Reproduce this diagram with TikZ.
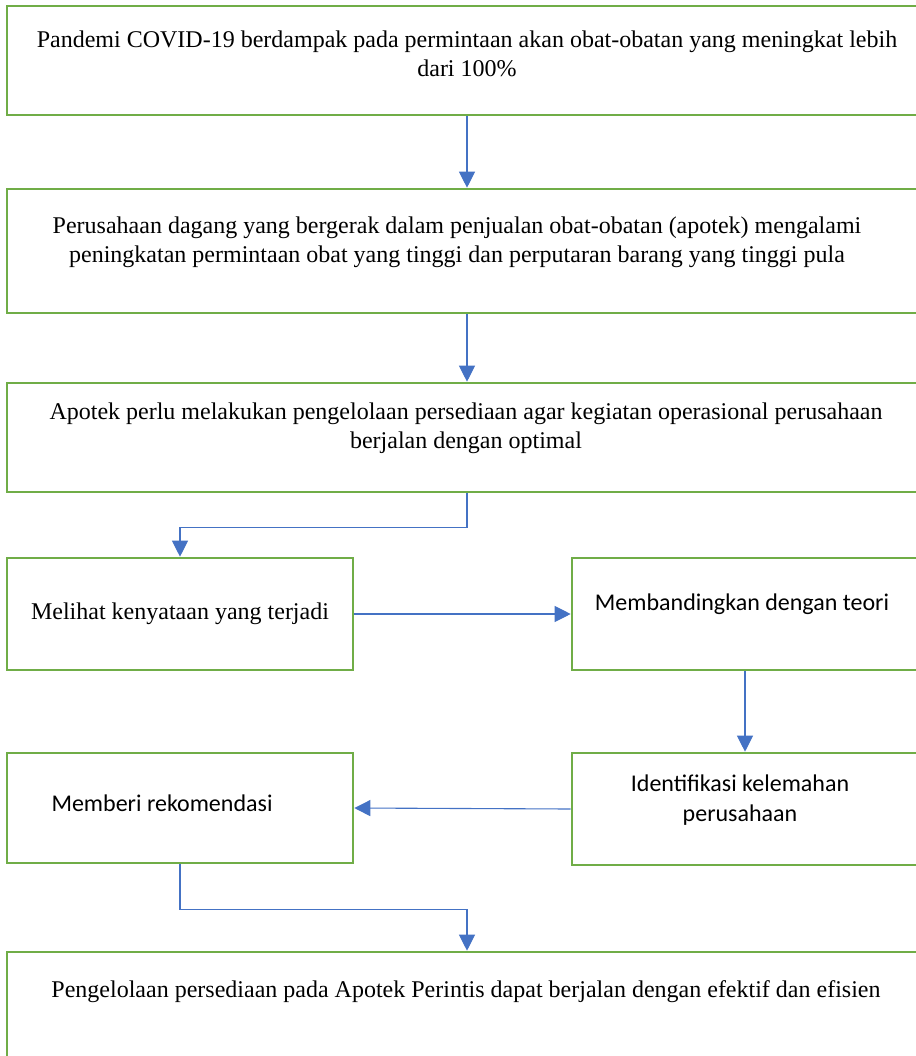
\documentclass[tikz,border=0pt]{standalone}
\usepackage{fontspec}
\setmainfont{Liberation Serif}
\newfontfamily\calibri{Carlito}
\usetikzlibrary{arrows.meta}
\definecolor{boxgreen}{RGB}{112,173,71}
\definecolor{lineblue}{RGB}{68,114,196}
\tikzstyle{box}=[rectangle,draw=boxgreen,line width=2.6pt,inner sep=0pt]
\tikzstyle{wide}=[minimum width=920pt]
\tikzstyle{half}=[minimum width=346pt,minimum height=112pt]
\tikzstyle{boxtext}=[align=center,inner sep=0pt,font=\fontsize{24}{29}\selectfont]
\tikzstyle{sanstext}=[align=center,inner sep=0pt,font=\calibri\fontsize{24}{30}\selectfont]
\tikzstyle{flow}=[-{Triangle[width=16pt,length=16pt]},draw=lineblue,line width=1.1pt]

\begin{document}
\begin{tikzpicture}[x=1pt,y=1pt]
	\useasboundingbox (0,0) rectangle (915,-1056);
	% boxes
		\node [style=box, style=wide, minimum height=109pt] (B1) at (467,-60.5) {};
		\node [style=box, style=wide, minimum height=124pt] (B2) at (467,-251) {};
		\node [style=box, style=wide, minimum height=109pt] (B3) at (467,-437.5) {};
		\node [style=box, style=half] (B4) at (180,-614) {};
		\node [style=box, style=half] (B5) at (745,-614) {};
		\node [style=box, style=half] (B6) at (745,-809) {};
		\node [style=box, style=half, minimum height=110pt] (B7) at (180,-808) {};
		\node [style=box, style=wide, minimum height=113pt] (B8) at (467,-1008.5) {};
	% texts
		\node [style=boxtext] (T1) at (467,-53.5) {Pandemi COVID-19 berdampak pada permintaan akan obat-obatan yang meningkat lebih\\ dari 100\%};
		\node [style=boxtext] (T2) at (457,-242.5) {Perusahaan dagang yang bergerak dalam penjualan obat-obatan (apotek) mengalami\\ peningkatan permintaan obat yang tinggi dan perputaran barang yang tinggi pula};
		\node [style=boxtext] (T3) at (466,-428) {Apotek perlu melakukan pengelolaan persediaan agar kegiatan operasional perusahaan\\ berjalan dengan optimal};
		\node [style=boxtext] (T4) at (180,-614) {Melihat kenyataan yang terjadi};
		\node [style=sanstext] (T5) at (742,-604) {Membandingkan dengan teori};
		\node [style=sanstext] (T6) at (740,-800) {Identifikasi kelemahan\\ perusahaan};
		\node [style=sanstext] (T7) at (162,-803) {Memberi rekomendasi};
		\node [style=boxtext] (T8) at (466,-992) {Pengelolaan persediaan pada Apotek Perintis dapat berjalan dengan efektif dan efisien};
	% connectors
		\draw [style=flow] (B1.south) -- (B2.north);
		\draw [style=flow] (B2.south) -- (B3.north);
		\draw [style=flow] (B3.south) -- ++(0,-34) -| (B4.north);
		\draw [style=flow] (B4.east) -- (B5.west);
		\draw [style=flow] (B5.south) -- (B6.north);
		\draw [style=flow] (B6.west) -- (B7.east);
		\draw [style=flow] (B7.south) -- ++(0,-45) -| (B8.north);
\end{tikzpicture}
\end{document}
